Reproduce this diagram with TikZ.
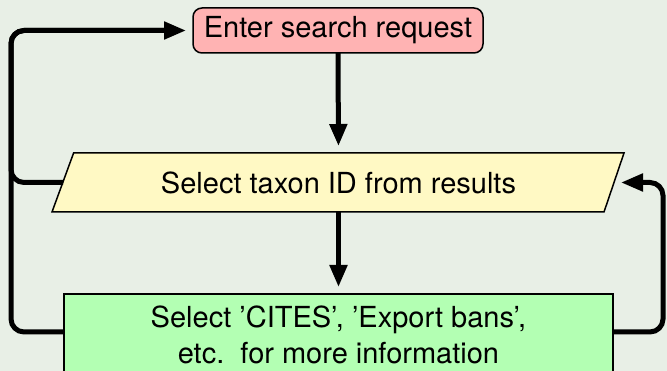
\documentclass[tikz,border=0pt]{standalone}
\usepackage{fontspec}
\setmainfont{TeX Gyre Heros}
\usetikzlibrary{arrows.meta}
\definecolor{bgc}{HTML}{E8EFE6}
\definecolor{pinkc}{HTML}{FFB3B3}
\definecolor{yelc}{HTML}{FFF9C4}
\definecolor{grnc}{HTML}{B3FFB3}
\tikzset{
  boxbase/.style={draw=black, line width=1.5pt, inner sep=0pt, outer sep=0pt, align=center,
    font=\fontsize{29}{36.5}\selectfont},
  conn/.style={line width=5pt, rounded corners=13pt},
  arr/.style={conn, -{Triangle[length=22pt,width=17pt]}},
}
\begin{document}
\begin{tikzpicture}[x=1pt,y=-1pt]
\useasboundingbox (0,0) rectangle (667,371);
\fill[bgc] (0,0) rectangle (667,371);
\clip (0,0) rectangle (667,371);
% nodes
\node[boxbase, fill=pinkc, rounded corners=9pt, minimum width=290pt, minimum height=45pt] (top) at (338,30.5) {Enter search request};
\filldraw[fill=yelc, draw=black, line width=1.5pt] (73.6,153) -- (624,153) -- (604,212) -- (52,212) -- cycle;
\node[boxbase, draw=none, minimum width=551pt, minimum height=59pt] (sel) at (338.5,182.5) {Select taxon ID from results};
\node[boxbase, fill=grnc, minimum width=549pt, minimum height=82pt] (grn) at (338.5,335) {Select ’CITES’, ’Export bans’,\\ etc.\ \ for more information};
% named free points
\coordinate (lx) at (11,0);
\coordinate (rx) at (663,0);
\coordinate (rtip) at ([xshift=7pt]sel.east);
% connectors
\draw[arr, shorten >=7pt] (top.south) -- (sel.north);
\draw[arr, shorten >=7pt] (sel.south) -- (grn.north);
\draw[arr, shorten >=7pt] ([yshift=3pt]grn.west) -| (lx |- top.west) -- (top.west);
\draw[conn] (sel.west) -| (lx |- top.west) -- ([xshift=-20pt]top.west);
\draw[arr] ([yshift=3pt]grn.east) -| (rx |- rtip) -- (rtip);
\end{tikzpicture}
\end{document}
